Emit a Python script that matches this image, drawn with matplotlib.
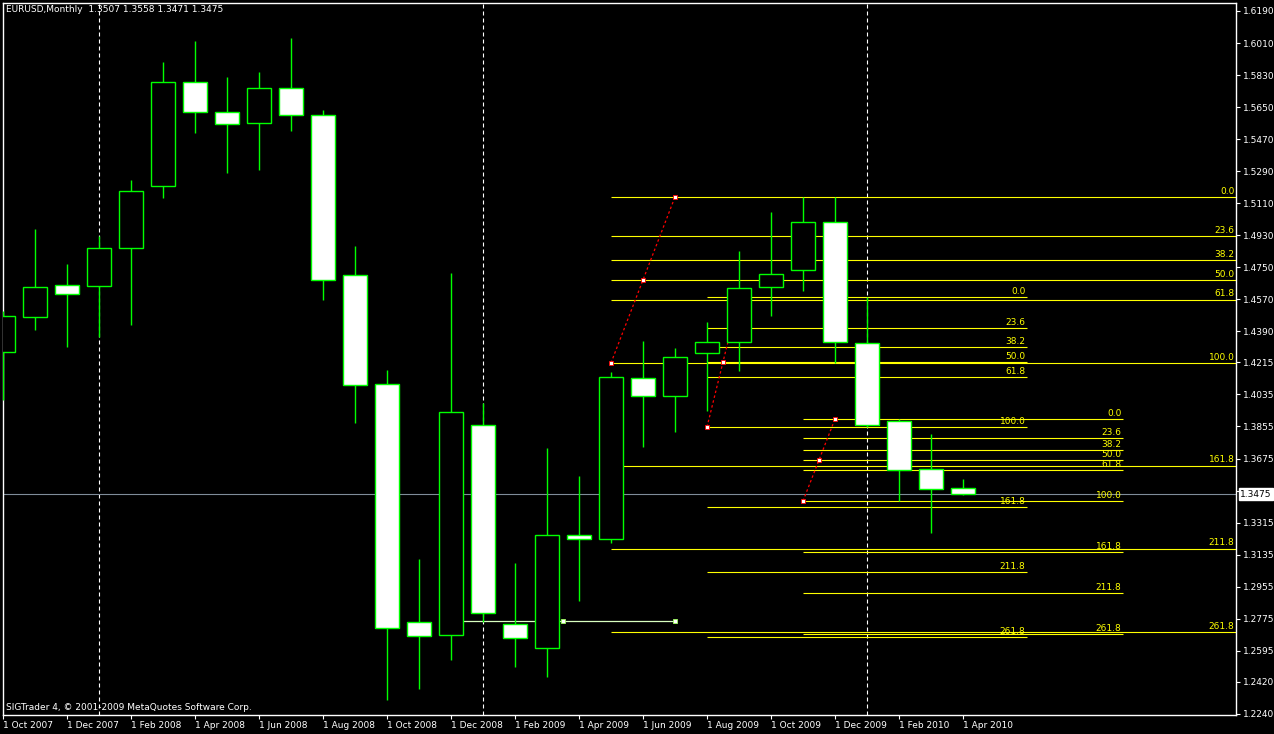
import matplotlib
matplotlib.use("Agg")
import matplotlib.pyplot as plt

# monthly EURUSD bars, Oct 2007 .. Apr 2010
months = ["Oct 2007", "Nov 2007", "Dec 2007", "Jan 2008", "Feb 2008", "Mar 2008",
          "Apr 2008", "May 2008", "Jun 2008", "Jul 2008", "Aug 2008", "Sep 2008",
          "Oct 2008", "Nov 2008", "Dec 2008", "Jan 2009", "Feb 2009", "Mar 2009",
          "Apr 2009", "May 2009", "Jun 2009", "Jul 2009", "Aug 2009", "Sep 2009",
          "Oct 2009", "Nov 2009", "Dec 2009", "Jan 2010", "Feb 2010", "Mar 2010",
          "Apr 2010"]
opens = [1.4274, 1.4470, 1.4650, 1.4645, 1.4858, 1.5207, 1.5791, 1.5622, 1.5561,
         1.5757, 1.5606, 1.4706, 1.4094, 1.2756, 1.2683, 1.3863, 1.2745, 1.2610,
         1.3245, 1.3223, 1.4127, 1.4026, 1.4268, 1.4330, 1.4639, 1.4734, 1.5004,
         1.4324, 1.3886, 1.3616, 1.3507]
highs = [1.4504, 1.4965, 1.4768, 1.4926, 1.5240, 1.5903, 1.6021, 1.5819, 1.5847,
         1.6038, 1.5634, 1.4869, 1.4172, 1.3110, 1.4718, 1.3987, 1.3087, 1.3734,
         1.3577, 1.4161, 1.4335, 1.4296, 1.4442, 1.4841, 1.5060, 1.5145, 1.5145,
         1.4583, 1.3897, 1.3813, 1.3558]
lows = [1.4004, 1.4397, 1.4302, 1.4358, 1.4425, 1.5139, 1.5504, 1.5280, 1.5296,
        1.5516, 1.4566, 1.3875, 1.2318, 1.2380, 1.2543, 1.2756, 1.2503, 1.2447,
        1.2874, 1.3200, 1.3740, 1.3824, 1.3943, 1.4167, 1.4476, 1.4616, 1.4212,
        1.3852, 1.3436, 1.3256, 1.3471]
closes = [1.4476, 1.4639, 1.4600, 1.4858, 1.5178, 1.5791, 1.5622, 1.5555, 1.5757,
          1.5606, 1.4678, 1.4088, 1.2722, 1.2678, 1.3937, 1.2807, 1.2666, 1.3245,
          1.3223, 1.4133, 1.4026, 1.4245, 1.4330, 1.4633, 1.4712, 1.5004, 1.4330,
          1.3863, 1.3610, 1.3504, 1.3475]

last_price = 1.3475
price_ticks = [1.6190, 1.6010, 1.5830, 1.5650, 1.5470, 1.5290, 1.5110, 1.4930,
               1.4750, 1.4570, 1.4390, 1.4215, 1.4035, 1.3855, 1.3675, 1.3495,
               1.3315, 1.3135, 1.2955, 1.2775, 1.2595, 1.2420, 1.2240]
year_starts = [3, 15, 27]

# fibonacci objects: (start bar, end bar, price at 100, price at 0, right end bar)
fib_levels = [0.0, 23.6, 38.2, 50.0, 61.8, 100.0, 161.8, 211.8, 261.8]
fibs = [
    (19, 21, 1.4212, 1.5145, None),
    (22, 23, 1.3852, 1.4583, 32),
    (25, 26, 1.3436, 1.3897, 35),
]
# horizontal trend line
hline_start, hline_end, hline_price = 14, 21, 1.2762

W, H = 1274, 734
fig = plt.figure(figsize=(W / 100, H / 100), dpi=100, facecolor="black")
ax = fig.add_axes([2.5 / W, (H - 715) / H, (1236 - 2.5) / W, (715 - 2.5) / H])
ax.set_facecolor("black")

x_right = (1236 - 3) / 32
ax.set_xlim((2.5 - 3) / 32, x_right)
ax.set_ylim(1.6190 - 704 * 0.000562, 1.6190 + 8.5 * 0.000562)

green = "#00ff00"
yellow = "#ffff00"
fs = 6.5

# period separators
for xs in year_starts:
    ax.axvline(xs, color="white", lw=0.8, ls=(0, (3.6, 2.7)), zorder=1)

# current price line
ax.axhline(last_price, color="#7f8c99", lw=0.8, zorder=1.5)

# fibonacci retracements
for x0, x1, p100, p0, xend in fibs:
    end = x_right if xend is None else xend
    for lv in fib_levels:
        p = p0 - (p0 - p100) * lv / 100.0
        ax.hlines(p, x0, end, color=yellow, lw=0.8, zorder=2)
        ax.text(end - 0.05, p + 0.0006, "%.1f" % lv, color=yellow, fontsize=fs,
                ha="right", va="bottom", zorder=2)
    ax.plot([x0, x1], [p100, p0], color="red", lw=0.9, ls=(0, (2, 2)), zorder=2.5)
    ax.plot([x0, (x0 + x1) / 2, x1], [p100, (p0 + p100) / 2, p0], ls="none",
            marker="s", ms=2.5, mfc="white", mec="red", mew=0.6, zorder=2.6)

ax.hlines(hline_price, hline_start, hline_end, color="#d8ffc0", lw=0.9, zorder=2)
ax.plot([hline_start, (hline_start + hline_end) / 2, hline_end], [hline_price] * 3,
        ls="none", marker="s", ms=3, mfc="white", mec="#a0ff60", mew=0.6, zorder=2.6)

# candles
xs_idx = list(range(len(months)))
ax.vlines(xs_idx, lows, highs, color=green, lw=1, zorder=3)
bodies = [abs(c - o) if abs(c - o) > 0.0004 else 0.0004 for o, c in zip(opens, closes)]
bottoms = [min(o, c) for o, c in zip(opens, closes)]
faces = ["black" if c > o else "white" for o, c in zip(opens, closes)]
ax.bar(xs_idx, bodies, bottom=bottoms, width=0.75, color=faces, edgecolor=green,
       linewidth=1, zorder=4)

# axes styling
for s in ax.spines.values():
    s.set_color("white")
    s.set_linewidth(1)
ax.yaxis.tick_right()
ax.set_yticks(price_ticks)
# the tick under the last-price box is covered, as on the terminal
ax.set_yticklabels(["" if abs(t - last_price) < 0.003 else "%.4f" % t
                    for t in price_ticks])
ax.set_xticks(xs_idx[::2])
ax.set_xticklabels(["1 " + m for m in months[::2]])
ax.tick_params(axis="both", colors="white", labelsize=fs, length=3, width=0.8,
               direction="out")
ax.tick_params(axis="x", pad=1)
ax.tick_params(axis="y", pad=2)
plt.setp(ax.get_xticklabels(), ha="left")

ax.annotate("%.4f" % last_price, xy=(1.0, last_price),
            xycoords=("axes fraction", "data"), xytext=(3, 0),
            textcoords="offset points", ha="left", va="center", fontsize=fs,
            color="black", annotation_clip=False, zorder=10,
            bbox=dict(boxstyle="square,pad=0.15", fc="white", ec="white"))

fig.text(6 / W, 1 - 10 / H, "EURUSD,Monthly  1.3507 1.3558 1.3471 1.3475",
         color="white", fontsize=fs, va="center", ha="left")
fig.text(6 / W, 1 - 708 / H, "SIGTrader 4, \u00a9 2001-2009 MetaQuotes Software Corp.",
         color="white", fontsize=fs, va="center", ha="left")

fig.savefig("out.png", dpi=100, facecolor="black")
